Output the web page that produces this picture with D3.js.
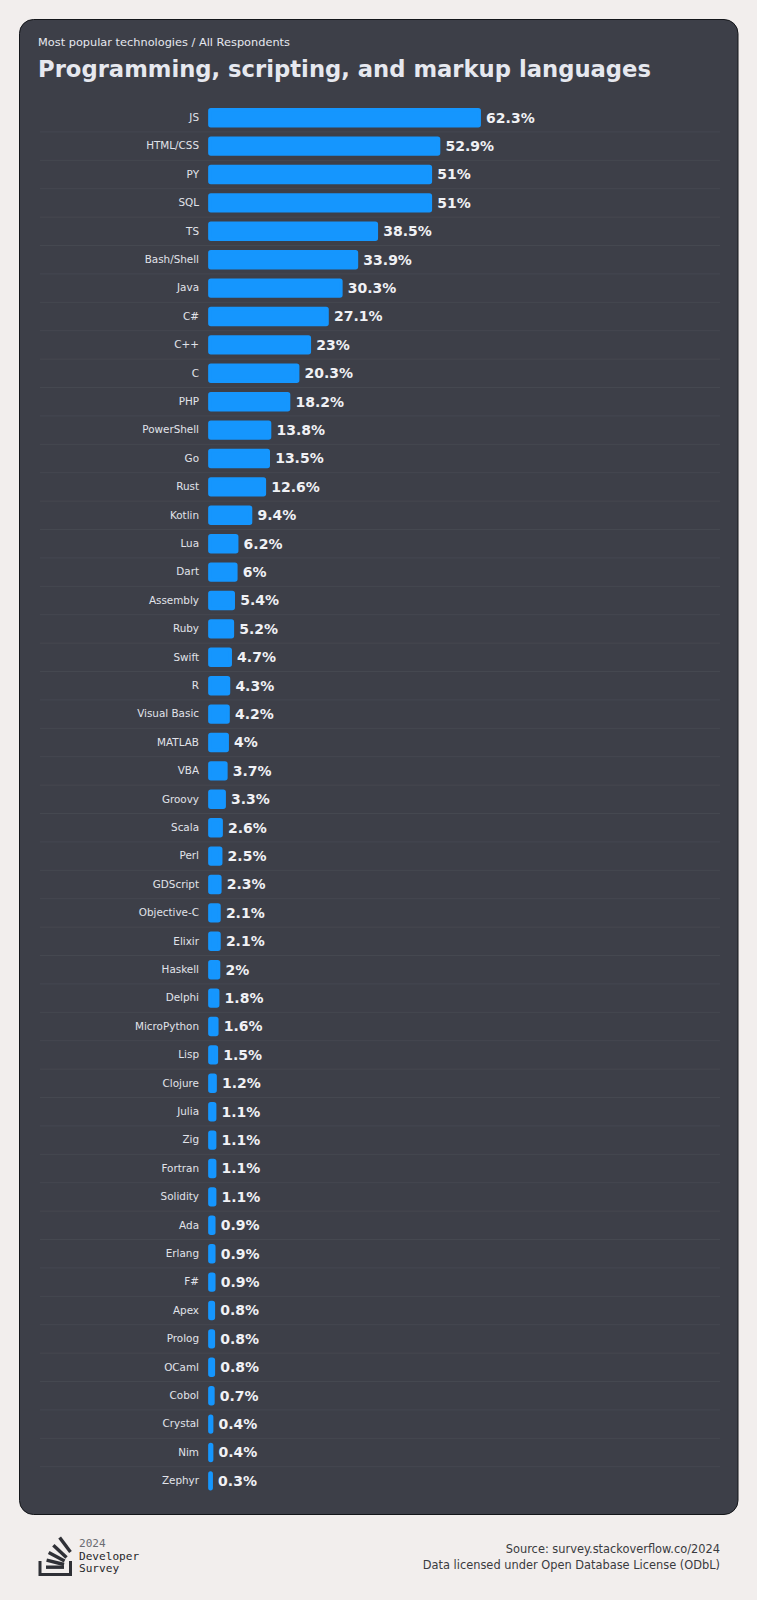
<!DOCTYPE html>
<html>
<head>
<meta charset="utf-8">
<script src="https://cdnjs.cloudflare.com/ajax/libs/d3/7.8.5/d3.min.js"></script>
<style>
  html, body { margin: 0; padding: 0; background: #f2eeed; }
  svg { display: block; font-family: "DejaVu Sans", sans-serif; }
</style>
</head>
<body>
<svg id="chart" width="757" height="1600"></svg>
<script>
const languages = ['JS', 'HTML/CSS', 'PY', 'SQL', 'TS', 'Bash/Shell', 'Java', 'C#', 'C++', 'C', 'PHP',
  'PowerShell', 'Go', 'Rust', 'Kotlin', 'Lua', 'Dart', 'Assembly', 'Ruby', 'Swift', 'R', 'Visual Basic',
  'MATLAB', 'VBA', 'Groovy', 'Scala', 'Perl', 'GDScript', 'Objective-C', 'Elixir', 'Haskell', 'Delphi',
  'MicroPython', 'Lisp', 'Clojure', 'Julia', 'Zig', 'Fortran', 'Solidity', 'Ada', 'Erlang', 'F#', 'Apex',
  'Prolog', 'OCaml', 'Cobol', 'Crystal', 'Nim', 'Zephyr']

const shares = [62.3, 52.9, 51, 51, 38.5, 33.9, 30.3, 27.1, 23, 20.3, 18.2,
  13.8, 13.5, 12.6, 9.4, 6.2, 6, 5.4, 5.2, 4.7, 4.3, 4.2,
  4, 3.7, 3.3, 2.6, 2.5, 2.3, 2.1, 2.1, 2, 1.8,
  1.6, 1.5, 1.2, 1.1, 1.1, 1.1, 1.1, 0.9, 0.9, 0.9, 0.8,
  0.8, 0.8, 0.7, 0.4, 0.4, 0.3]

const footerLines = ['Source: survey.stackoverflow.co/2024', 'Data licensed under Open Database License (ODbL)']
const logoLines = ['2024', 'Developer', 'Survey']

const svg = d3.select('#chart')

// card
svg.append('rect')
  .attr('x', 19.5).attr('y', 19.5)
  .attr('width', 718.5).attr('height', 1495)
  .attr('rx', 14)
  .attr('fill', '#3d3f48')
  .attr('stroke', '#14161a')
  .attr('stroke-width', 1)

svg.append('text')
  .attr('x', 38).attr('y', 46)
  .attr('font-size', 11.35)
  .attr('fill', '#e6e8ef')
  .text('Most popular technologies / All Respondents')

svg.append('text')
  .attr('x', 38).attr('y', 77)
  .attr('font-size', 22.7)
  .attr('font-weight', 700)
  .attr('fill', '#e6e8ef')
  .text('Programming, scripting, and markup languages')

const step = 28.4
const y = d3.scaleBand()
  .domain(languages)
  .range([103.5, 103.5 + step * languages.length])
  .paddingInner(0.44)
  .paddingOuter(0.22)

const x = d3.scaleLinear()
  .domain([0, 62.3])
  .range([209.9, 479.2])

// row separators
svg.append('g')
  .selectAll('line')
  .data(languages.slice(1))
  .enter()
  .append('line')
  .attr('x1', 40)
  .attr('x2', 720)
  .attr('y1', d => y(d) - y.step() * y.paddingInner() / 2)
  .attr('y2', d => y(d) - y.step() * y.paddingInner() / 2)
  .attr('stroke', '#484a53')
  .attr('stroke-width', 0.8)

svg.append('g')
  .attr('fill', '#1596fe')
  .attr('stroke', '#1596fe')
  .attr('stroke-width', 3.5)
  .attr('stroke-linejoin', 'round')
  .selectAll('rect')
  .data(shares)
  .enter()
  .append('rect')
  .attr('x', x(0))
  .attr('y', (d, i) => y(languages[i]))
  .attr('width', d => x(d) - x(0))
  .attr('height', y.bandwidth())
  .attr('rx', 1)

svg.append('g')
  .attr('font-size', 14)
  .attr('font-weight', 700)
  .attr('fill', '#f0f1f5')
  .selectAll('text')
  .data(shares)
  .enter()
  .append('text')
  .attr('x', d => x(d) + 6.9)
  .attr('y', (d, i) => y(languages[i]) + y.bandwidth() / 2)
  .attr('dy', '0.35em')
  .text(d => d + '%')

const axis = svg.append('g')
  .attr('transform', 'translate(199,0)')
  .call(d3.axisLeft(y).tickSize(0).tickPadding(0))
axis.select('.domain').remove()
axis.selectAll('text')
  .attr('font-family', '"DejaVu Sans", sans-serif')
  .attr('font-size', 10.4)
  .attr('fill', '#e1e3ea')

// footer
const footer = svg.append('g')
  .attr('font-size', 11.4)
  .attr('fill', '#3a3b40')
  .attr('text-anchor', 'end')
footer.selectAll('text')
  .data(footerLines)
  .enter()
  .append('text')
  .attr('x', 720)
  .attr('y', (d, i) => 1553 + i * 16)
  .text(d => d)

// logo: tray plus fanned bars
const logo = svg.append('g').attr('fill', '#2f3036')
logo.append('path')
  .attr('d', 'M38.5 1561v15h33.5v-15h-3v12H41.5v-12z')
const fan = [[46, 1565.5, 0, 18], [47, 1558.5, 14, 18], [49.5, 1551, 28, 18], [54.5, 1544, 43, 18], [61, 1536.5, 53, 18]]
logo.selectAll('rect.fan')
  .data(fan)
  .enter()
  .append('rect')
  .attr('class', 'fan')
  .attr('width', d => d[3])
  .attr('height', 3.4)
  .attr('transform', d => 'translate(' + d[0] + ',' + d[1] + ') rotate(' + d[2] + ')')

svg.append('g')
  .attr('font-family', '"DejaVu Sans Mono", monospace')
  .attr('font-size', 11.1)
  .selectAll('text')
  .data(logoLines)
  .enter()
  .append('text')
  .attr('x', 79)
  .attr('y', (d, i) => 1547 + i * 12.7)
  .attr('fill', (d, i) => i === 0 ? '#6b6c72' : '#26272b')
  .text(d => d)
</script>
</body>
</html>
